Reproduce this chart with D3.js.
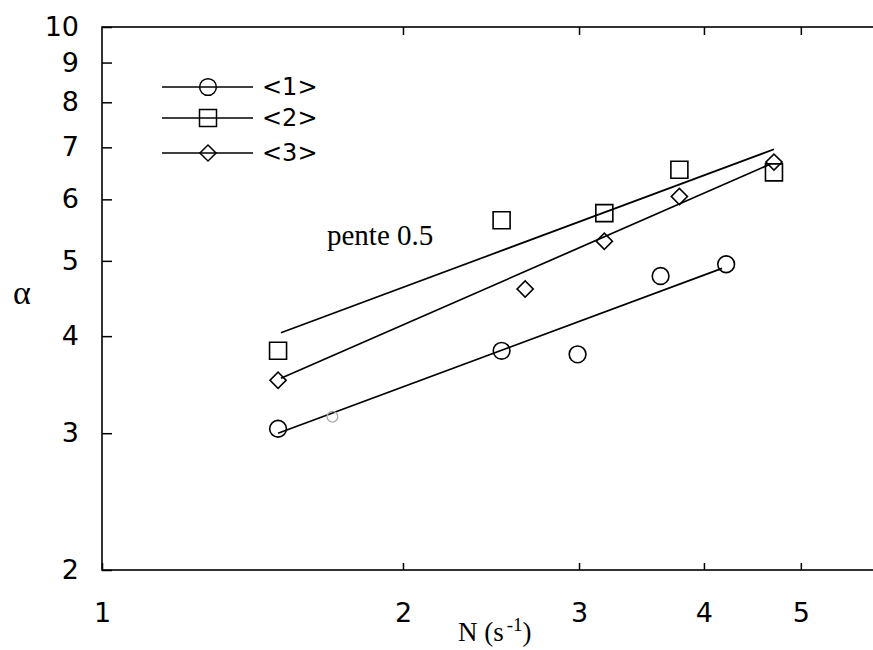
<!DOCTYPE html>
<html>
<head>
<meta charset="utf-8">
<script src="https://cdn.jsdelivr.net/npm/d3@7"></script>
<style>
  body { margin: 0; background: #fff; }
  svg { display: block; }
</style>
</head>
<body>
<script>
// data
var seriesNames = ["<1>", "<2>", "<3>"];
var n1 = [1.50, 2.51, 2.99, 3.62, 4.21];
var a1 = [3.04, 3.83, 3.79, 4.78, 4.95];
var n2 = [1.50, 2.51, 3.18, 3.78, 4.70];
var a2 = [3.83, 5.64, 5.76, 6.55, 6.50];
var n3 = [1.50, 2.65, 3.18, 3.78, 4.70];
var a3 = [3.51, 4.60, 5.30, 6.05, 6.70];
// fitted lines (end points)
var fitN1 = [1.50, 4.17], fitA1 = [3.00, 4.89];
var fitN2 = [1.51, 4.70], fitA2 = [4.04, 6.96];
var fitN3 = [1.51, 4.66], fitA3 = [3.53, 6.66];
// faded mark near series 1
var fadedN = [1.70], fadedA = [3.15];
var xTicks = [1, 2, 3, 4, 5];
var yTicks = [2, 3, 4, 5, 6, 7, 8, 9, 10];

var width = 873, height = 650;
var svg = d3.select("body").append("svg")
  .attr("width", width)
  .attr("height", height);

var x = d3.scaleLog().domain([1, 6]).range([102, 880]);
var y = d3.scaleLog().domain([2, 10]).range([570, 27]);

var tickFont = "'DejaVu Sans', sans-serif";

// frame
svg.append("rect")
  .attr("x", x(1)).attr("y", y(10))
  .attr("width", x(6) - x(1)).attr("height", y(2) - y(10))
  .attr("fill", "none").attr("stroke", "#000").attr("stroke-width", 1.6);

var leftAx = svg.append("g")
  .attr("transform", "translate(" + x(1) + ",0)")
  .call(d3.axisLeft(y).tickValues(yTicks).tickFormat(d3.format("d"))
    .tickSizeInner(-10).tickSizeOuter(0).tickPadding(23));
var bottomAx = svg.append("g")
  .attr("transform", "translate(0," + y(2) + ")")
  .call(d3.axisBottom(x).tickValues(xTicks).tickFormat(d3.format("d"))
    .tickSizeInner(-7).tickSizeOuter(0).tickPadding(33));
var topAx = svg.append("g")
  .attr("transform", "translate(0," + y(10) + ")")
  .call(d3.axisTop(x).tickValues(xTicks.slice(1)).tickFormat("")
    .tickSizeInner(-8).tickSizeOuter(0));

[leftAx, bottomAx, topAx].forEach(function(g) {
  g.select(".domain").remove();
  g.selectAll("line").attr("stroke", "#000").attr("stroke-width", 1.5);
  g.selectAll("text")
    .attr("fill", "#000")
    .style("font-family", tickFont)
    .style("font-size", "27px");
});

// axis labels
svg.append("text")
  .attr("x", 22).attr("y", 304)
  .attr("text-anchor", "middle")
  .style("font-family", "'Liberation Serif', serif")
  .style("font-size", "34px")
  .text("α");

var xl = svg.append("text")
  .attr("x", 458).attr("y", 641)
  .style("font-family", "'Liberation Serif', serif")
  .style("font-size", "27px");
xl.append("tspan").text("N (s");
xl.append("tspan").attr("dy", -10).attr("dx", 3).style("font-size", "19px").text("-1");
xl.append("tspan").attr("dy", 10).text(")");

svg.append("text")
  .attr("x", 327).attr("y", 245)
  .style("font-family", "'Liberation Serif', serif")
  .style("font-size", "29px")
  .text("pente 0.5");

// markers
var shapes = [
  d3.symbol().type(d3.symbolCircle).size(220),
  d3.symbol().type(d3.symbolSquare).size(289),
  d3.symbol().type(d3.symbolSquare).size(130)
];
var rot = [0, 0, 45];

var series = [
  { n: n1, a: a1, fn: fitN1, fa: fitA1 },
  { n: n2, a: a2, fn: fitN2, fa: fitA2 },
  { n: n3, a: a3, fn: fitN3, fa: fitA3 }
];

var line = d3.line()
  .x(function(d) { return x(d[0]); })
  .y(function(d) { return y(d[1]); });

series.forEach(function(s, i) {
  svg.append("path")
    .attr("d", line(d3.zip(s.fn, s.fa)))
    .attr("fill", "none").attr("stroke", "#000").attr("stroke-width", 1.7);

  svg.selectAll(".m" + i)
    .data(d3.zip(s.n, s.a))
    .enter().append("path")
    .attr("class", "m" + i)
    .attr("d", shapes[i])
    .attr("transform", function(d) {
      return "translate(" + x(d[0]) + "," + y(d[1]) + ") rotate(" + rot[i] + ")";
    })
    .attr("fill", "none").attr("stroke", "#000").attr("stroke-width", 1.6);
});

svg.selectAll(".faded")
  .data(d3.zip(fadedN, fadedA))
  .enter().append("path")
  .attr("class", "faded")
  .attr("d", d3.symbol().type(d3.symbolCircle).size(90))
  .attr("transform", function(d) { return "translate(" + x(d[0]) + "," + y(d[1]) + ")"; })
  .attr("fill", "none").attr("stroke", "#aaa").attr("stroke-width", 1.3);

// legend
var legY = [87, 118, 153];
var lg = svg.append("g");
seriesNames.forEach(function(name, i) {
  lg.append("line")
    .attr("x1", 162).attr("x2", 253)
    .attr("y1", legY[i]).attr("y2", legY[i])
    .attr("stroke", "#000").attr("stroke-width", 1.7);
  lg.append("path")
    .attr("d", shapes[i])
    .attr("transform", "translate(208," + legY[i] + ") rotate(" + rot[i] + ")")
    .attr("fill", "none").attr("stroke", "#000").attr("stroke-width", 1.5);
  lg.append("text")
    .attr("x", 262).attr("y", legY[i] + 8)
    .style("font-family", tickFont)
    .style("font-size", "24px")
    .text(name);
});
</script>
</body>
</html>
